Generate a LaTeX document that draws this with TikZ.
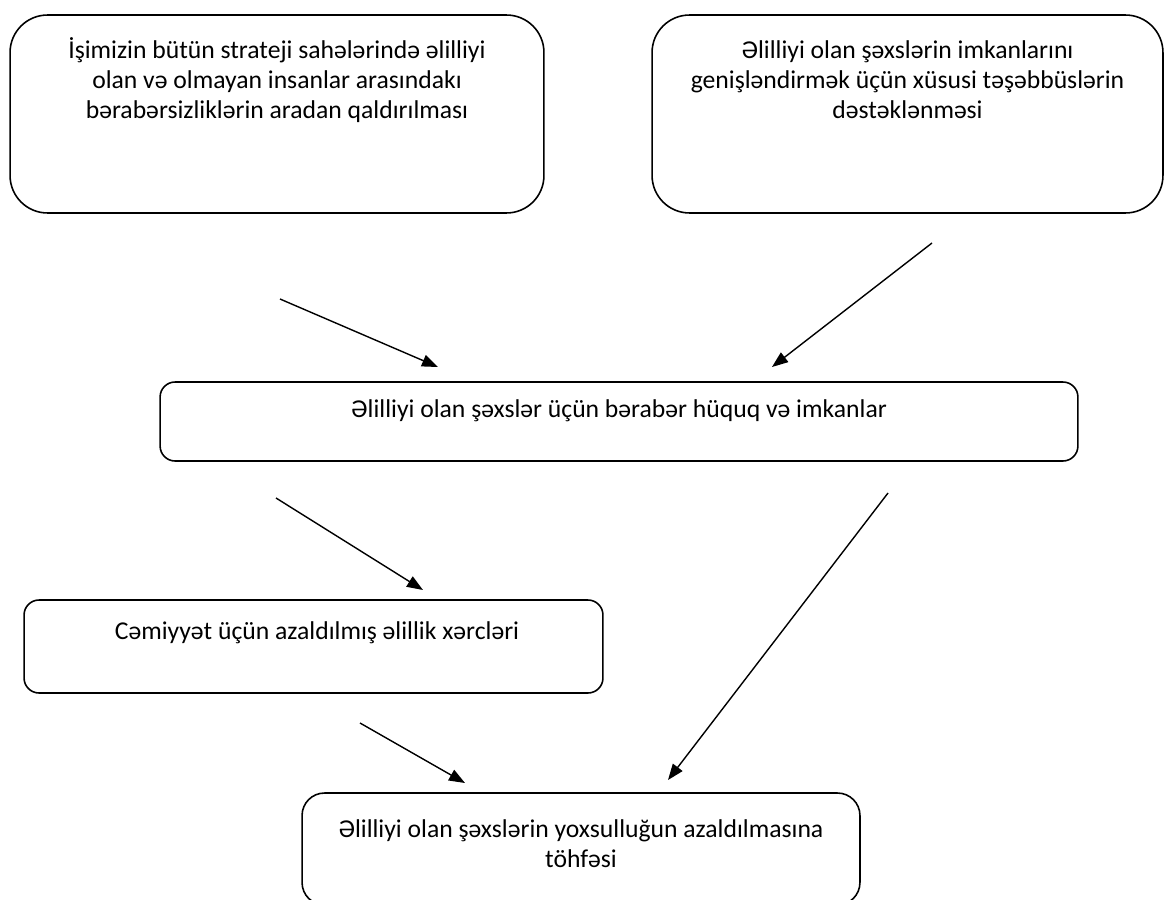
\documentclass[tikz,border=0pt]{standalone}
\usepackage{fontspec}
\setmainfont{Carlito}
\usetikzlibrary{arrows.meta}
\begin{document}
\begin{tikzpicture}[%
  box/.style = {draw, line width = 0.9pt, inner sep = 0pt},
  txt/.style = {align = center, inner sep = 0pt,
    font = \fontsize{14.6}{17}\selectfont},
  arr/.style = {-{Triangle[length = 0.32cm, width = 0.24cm]}, line width = 0.8pt},
  x = 0.02cm, y = -0.02cm]
  \clip (0, 0) rectangle (1165, 899);
  \fill[white] (0, 0) rectangle (1165, 899);

  \node[box, rounded corners = 0.75cm, minimum width = 10.68cm, minimum height = 3.96cm] (g1) at (277, 114) {};
  \node[box, rounded corners = 0.75cm, minimum width = 10.22cm, minimum height = 3.96cm] (g2) at (907.5, 114) {};
  \node[box, rounded corners = 0.3cm, minimum width = 18.36cm, minimum height = 1.58cm] (eq) at (619, 421.5) {};
  \node[box, rounded corners = 0.3cm, minimum width = 11.58cm, minimum height = 1.86cm] (cost) at (313.5, 646.5) {};
  \node[box, rounded corners = 0.45cm, minimum width = 11.16cm, minimum height = 2.24cm] (pov) at (581, 849) {};

  \node[txt] (g1t) at (277, 80) {İşimizin bütün strateji sahələrində əlilliyi\\olan və olmayan insanlar arasındakı\\bərabərsizliklərin aradan qaldırılması};
  \node[txt] (g2t) at (907.5, 80) {Əlilliyi olan şəxslərin imkanlarını\\genişləndirmək üçün xüsusi təşəbbüslərin\\dəstəklənməsi};
  \node[txt] (eqt) at (619, 411) {Əlilliyi olan şəxslər üçün bərabər hüquq və imkanlar};
  \node[txt] (costt) at (317, 633) {Cəmiyyət üçün azaldılmış əlillik xərcləri};
  \node[txt] (povt) at (581, 844) {Əlilliyi olan şəxslərin yoxsulluğun azaldılmasına\\töhfəsi};

  \coordinate (s1) at (280, 299);  \coordinate (e1) at (438, 367);
  \coordinate (s2) at (932, 243);  \coordinate (e2) at (772, 367);
  \coordinate (s3) at (276, 498);  \coordinate (e3) at (423, 590);
  \coordinate (s4) at (888, 493);  \coordinate (e4) at (668, 780);
  \coordinate (s5) at (360, 723);  \coordinate (e5) at (465, 783);

  \draw[arr] (s1) -- (e1);
  \draw[arr] (s2) -- (e2);
  \draw[arr] (s3) -- (e3);
  \draw[arr] (s4) -- (e4);
  \draw[arr] (s5) -- (e5);
\end{tikzpicture}
\end{document}
